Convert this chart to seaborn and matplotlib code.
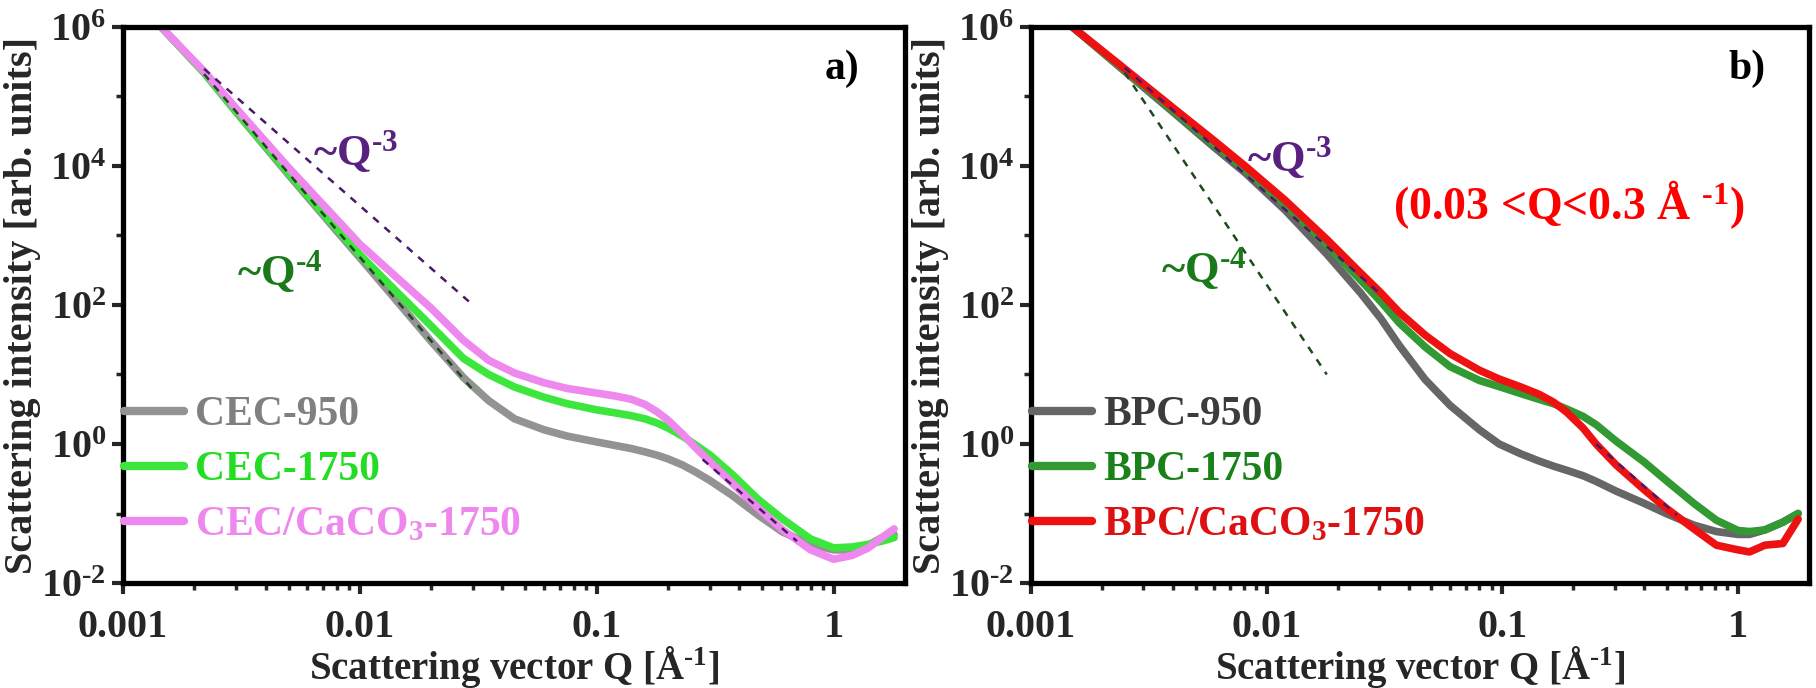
import matplotlib
matplotlib.use("Agg")
import matplotlib.pyplot as plt
import seaborn as sns
import pandas as pd
from matplotlib.ticker import FixedLocator, NullFormatter

sns.set_theme(style="ticks")
plt.rcParams['font.family'] = ['Liberation Serif', 'DejaVu Serif']
plt.rcParams['font.weight'] = 'bold'
plt.rcParams['mathtext.fontset'] = 'custom'
plt.rcParams['mathtext.rm'] = 'Liberation Serif:bold'
plt.rcParams['mathtext.it'] = 'Liberation Serif:bold'
plt.rcParams['mathtext.bf'] = 'Liberation Serif:bold'

# ---- panel a data ----
q_a = [0.00145, 0.0022, 0.003, 0.005, 0.008, 0.01, 0.0143, 0.02, 0.0274, 0.035,
       0.045, 0.06, 0.075, 0.1, 0.12, 0.14, 0.16, 0.18, 0.2, 0.23, 0.26, 0.3,
       0.375, 0.48, 0.61, 0.8, 1.0, 1.2, 1.4, 1.6, 1.8]
cec_950 = [1e6, 2.2e5, 6e4, 7500, 1150, 480, 115, 30, 9.0, 4.2,
           2.3, 1.6, 1.3, 1.07, 0.95, 0.86, 0.77, 0.69, 0.61, 0.5, 0.4, 0.3,
           0.18, 0.095, 0.054, 0.036, 0.03, 0.03, 0.035, 0.045, 0.05]
cec_1750 = [1e6, 2.2e5, 6.1e4, 7900, 1250, 530, 155, 50, 17, 10,
            6.6, 4.7, 3.8, 3.1, 2.8, 2.55, 2.3, 2.0, 1.7, 1.3, 0.98, 0.7,
            0.36, 0.16, 0.083, 0.043, 0.032, 0.033, 0.036, 0.04, 0.045]
cec_caco3 = [1e6, 2.3e5, 6.8e4, 9500, 1700, 750, 250, 90, 31, 16,
             10.5, 7.6, 6.3, 5.4, 4.9, 4.4, 3.7, 2.9, 2.2, 1.4, 0.9, 0.56,
             0.27, 0.12, 0.058, 0.03, 0.022, 0.025, 0.032, 0.045, 0.06]

# ---- panel b data ----
q_b = [0.0015, 0.0025, 0.004, 0.006, 0.0081, 0.012, 0.018, 0.025, 0.0305, 0.0366,
       0.047, 0.06, 0.08, 0.097, 0.12, 0.143, 0.165, 0.187, 0.22, 0.25, 0.304, 0.4,
       0.495, 0.65, 0.81, 1.0, 1.12, 1.3, 1.55, 1.8]
bpc_950 = [1e6, 2.3e5, 6e4, 1.85e4, 8000, 2300, 540, 150, 64, 26,
           8.5, 3.6, 1.6, 1.0, 0.72, 0.57, 0.48, 0.42, 0.35, 0.29, 0.21, 0.14,
           0.1, 0.068, 0.055, 0.05, 0.05, 0.058, 0.075, 0.1]
bpc_1750 = [1e6, 2.4e5, 6.3e4, 2.0e4, 9000, 2800, 740, 230, 112, 55,
            25, 13, 8.2, 6.7, 5.3, 4.4, 3.8, 3.2, 2.5, 1.9, 1.1, 0.55,
            0.3, 0.14, 0.08, 0.057, 0.055, 0.058, 0.075, 0.1]
bpc_caco3 = [1e6, 2.5e5, 6.9e4, 2.3e4, 1e4, 3200, 880, 290, 150, 78,
             37, 20, 11.5, 8.6, 6.6, 5.2, 4.0, 2.9, 1.7, 1.0, 0.5, 0.22,
             0.12, 0.06, 0.035, 0.03, 0.028, 0.035, 0.037, 0.083]

# power-law guide end points (Q, I)
guide3_a = ([0.0022, 0.03], [2.5e5, 1e2])
guide4_a = ([0.0022, 0.03], [2.1e5, 6])
guide3_a_hi = ([0.28, 0.7], [0.6, 0.04])
guide3_b = ([0.0025, 0.03], [2.6e5, 150])
guide4_b = ([0.0025, 0.018], [2.2e5, 10])
guide3_b_hi = ([0.25, 0.55], [1.0, 0.095])

panels = [
    dict(q=q_a, series={'CEC-950': cec_950, 'CEC-1750': cec_1750,
                        'CEC/CaCO$_3$-1750': cec_caco3},
         colors=['#939393', '#3de63d', '#ee88ee'],
         text_colors=['#808080', '#22dd22', '#ee88ee'],
         g3=guide3_a, g4=guide4_a, g3hi=guide3_a_hi, tag='a)',
         q3pos=(0.297, 0.775), q4pos=(0.2, 0.56)),
    dict(q=q_b, series={'BPC-950': bpc_950, 'BPC-1750': bpc_1750,
                        'BPC/CaCO$_3$-1750': bpc_caco3},
         colors=['#666666', '#339933', '#ee1111'],
         text_colors=['#3c3c3c', '#1a801a', '#dd1111'],
         g3=guide3_b, g4=guide4_b, g3hi=guide3_b_hi, tag='b)',
         q3pos=(0.332, 0.765), q4pos=(0.222, 0.565)),
]

fig = plt.figure(figsize=(18.16, 6.88), dpi=100)
boxes = [[0.0677, 0.1526, 0.4306, 0.8082], [0.5677, 0.1526, 0.4284, 0.8082]]

for p, box in zip(panels, boxes):
    ax = fig.add_axes(box)
    df = pd.DataFrame({'Q': p['q'], **p['series']}).melt('Q', var_name='sample', value_name='I')
    sns.lineplot(data=df, x='Q', y='I', hue='sample', palette=p['colors'],
                 lw=5.5, ax=ax, sort=False, estimator=None)
    sns.lineplot(x=p['g3'][0], y=p['g3'][1], ax=ax, color='#4a1a6a', lw=1.8,
                 linestyle=(0, (3, 3)))
    sns.lineplot(x=p['g4'][0], y=p['g4'][1], ax=ax, color='#1d4a1d', lw=1.8,
                 linestyle=(0, (3, 3)))
    sns.lineplot(x=p['g3hi'][0], y=p['g3hi'][1], ax=ax, color='#4a1a6a', lw=1.8,
                 linestyle=(0, (3, 3)))
    ax.set_xscale('log')
    ax.set_yscale('log')
    ax.set_xlim(0.001, 2)
    ax.set_ylim(1e-2, 1e6)
    ax.set_xticks([0.001, 0.01, 0.1, 1])
    ax.set_xticklabels(['0.001', '0.01', '0.1', '1'])
    ax.xaxis.set_minor_locator(FixedLocator(
        [m * 10.0 ** e for e in range(-3, 1) for m in range(2, 10) if m * 10.0 ** e < 2]))
    ax.xaxis.set_minor_formatter(NullFormatter())
    ax.set_yticks([1e-2, 1, 1e2, 1e4, 1e6])
    ax.set_yticklabels([r'$10^{\text{-}2}$', r'$10^{0}$', r'$10^{2}$', r'$10^{4}$', r'$10^{6}$'])
    ax.yaxis.set_minor_locator(FixedLocator([1e-1, 1e1, 1e3, 1e5]))
    ax.yaxis.set_minor_formatter(NullFormatter())
    ax.tick_params(which='major', length=8, width=3, labelsize=29)
    ax.tick_params(axis='x', which='major', pad=11)
    ax.tick_params(axis='y', which='major', pad=4)
    ax.tick_params(which='minor', length=5, width=2.5)
    for s in ax.spines.values():
        s.set_linewidth(3.8)
        s.set_color('black')
    ax.set_xlabel(r'Scattering vector Q [$\mathrm{\AA}^{\text{-}1}$]', fontsize=28,
                  fontweight='bold', labelpad=-2)
    ax.set_ylabel('Scattering intensity [arb. units]', fontsize=29,
                  fontweight='bold', labelpad=0)
    leg = ax.legend(loc='lower left', bbox_to_anchor=(-0.02, 0.04), frameon=False,
                    fontsize=30, handlelength=1.45, handletextpad=0.25,
                    labelspacing=0.4, borderaxespad=0)
    for txt, c in zip(leg.get_texts(), p['text_colors']):
        txt.set_color(c)
    for line in leg.get_lines():
        line.set_linewidth(6)
    ax.text(*p['q3pos'], r'~Q$^{\text{-}3}$', transform=ax.transAxes, color='#5a2080',
            fontsize=32, ha='center', va='center')
    ax.text(*p['q4pos'], r'~Q$^{\text{-}4}$', transform=ax.transAxes, color='#1a7a1a',
            fontsize=32, ha='center', va='center')
    ax.text(0.92, 0.925, p['tag'], transform=ax.transAxes, fontsize=30,
            ha='center', va='center', color='black')
    if p['tag'] == 'b)':
        ax.text(0.692, 0.68, r'(0.03 <Q<0.3 Å $^{\text{-}1}$)', transform=ax.transAxes,
                color='#ff0000', fontsize=33, ha='center', va='center')

fig.savefig('out.png', dpi=100)
